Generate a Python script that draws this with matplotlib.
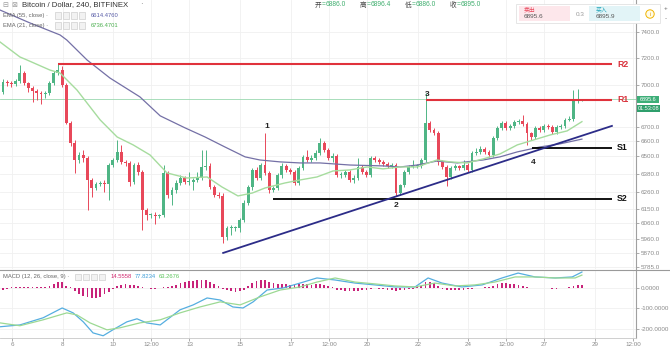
import numpy as np
import matplotlib.pyplot as plt
from matplotlib.patches import Rectangle, Ellipse
from matplotlib.lines import Line2D
from matplotlib.ticker import FixedLocator, NullLocator, FuncFormatter

plt.rcParams['font.family'] = ['Liberation Sans', 'Noto Sans CJK SC', 'DejaVu Sans']

# ---------------- 4h candles (BTC/USD, Bitfinex) ----------------
opens = [6949, 7021, 7014, 7007, 7029, 7088, 7014, 6977, 6956, 6941,
         6934, 6941, 7014, 7088, 7110, 6999, 6727, 6588, 6471, 6505,
         6485, 6337, 6284, 6311, 6317, 6311, 6437, 6471, 6526, 6458,
         6451, 6324, 6437, 6390, 6141, 6109, 6109, 6103, 6109, 6384,
         6238, 6271, 6317, 6350, 6324, 6324, 6337, 6350, 6424, 6431,
         6291, 6238, 6232, 5970, 6026, 6026, 6026, 6077, 6186, 6291,
         6404, 6350, 6437, 6384, 6271, 6284, 6370, 6431, 6404, 6390,
         6317, 6417, 6492, 6471, 6485, 6519, 6588, 6539, 6485, 6498,
         6370, 6370, 6390, 6337, 6350, 6424, 6390, 6370, 6485, 6471,
         6458, 6444, 6431, 6437, 6251, 6304, 6390, 6424, 6431, 6431,
         6471, 6727, 6678, 6657, 6458, 6424, 6357, 6417, 6431, 6417,
         6437, 6404, 6519, 6526, 6546, 6526, 6505, 6622, 6692, 6727,
         6692, 6706, 6734, 6741, 6720, 6657, 6629, 6692, 6678, 6706,
         6699, 6664, 6699, 6706, 6748, 6755, 6880, 6886]
highs = [7043, 7036, 7029, 7043, 7148, 7103, 7021, 6992, 6970, 6956,
         6956, 7029, 7103, 7155, 7140, 7014, 6741, 6608, 6526, 6539,
         6498, 6350, 6324, 6330, 6337, 6451, 6485, 6608, 6574, 6471,
         6464, 6451, 6458, 6404, 6154, 6122, 6128, 6115, 6437, 6397,
         6291, 6337, 6370, 6364, 6390, 6350, 6390, 6539, 6539, 6451,
         6304, 6258, 6251, 6039, 6045, 6039, 6090, 6206, 6304, 6417,
         6424, 6451, 6657, 6397, 6297, 6384, 6451, 6444, 6417, 6404,
         6431, 6505, 6539, 6505, 6539, 6622, 6601, 6553, 6519, 6512,
         6390, 6404, 6404, 6370, 6485, 6437, 6404, 6498, 6498, 6485,
         6471, 6458, 6451, 6451, 6311, 6404, 6437, 6471, 6444, 6485,
         6941, 6741, 6692, 6671, 6471, 6437, 6431, 6444, 6437, 6471,
         6451, 6532, 6553, 6567, 6560, 6539, 6636, 6706, 6741, 6741,
         6720, 6748, 6755, 6784, 6734, 6664, 6706, 6706, 6720, 6720,
         6713, 6713, 6720, 6763, 6777, 6963, 6970, 6896]
lows = [6934, 6992, 6985, 6992, 7014, 6999, 6949, 6877, 6891, 6862,
        6905, 6927, 6999, 7073, 6985, 6720, 6567, 6384, 6451, 6458,
        6141, 6225, 6271, 6297, 6258, 6206, 6424, 6458, 6444, 6431,
        6297, 6311, 6370, 6013, 6077, 6090, 6051, 6090, 6096, 6219,
        6173, 6251, 6304, 6311, 6304, 6271, 6324, 6337, 6404, 6278,
        6225, 6219, 5932, 5951, 5982, 6007, 6001, 6064, 6173, 6271,
        6337, 6337, 6370, 6251, 6258, 6271, 6350, 6390, 6377, 6304,
        6304, 6404, 6458, 6458, 6471, 6505, 6526, 6471, 6458, 6357,
        6350, 6357, 6324, 6317, 6337, 6377, 6357, 6357, 6458, 6444,
        6431, 6417, 6417, 6232, 6238, 6291, 6377, 6417, 6417, 6417,
        6458, 6664, 6643, 6437, 6411, 6297, 6344, 6404, 6404, 6404,
        6390, 6390, 6505, 6512, 6512, 6492, 6492, 6608, 6678, 6678,
        6678, 6692, 6720, 6706, 6574, 6608, 6615, 6664, 6664, 6685,
        6650, 6650, 6685, 6692, 6741, 6741, 6870, 6886]
closes = [7021, 7014, 7007, 7029, 7088, 7014, 6977, 6956, 6941, 6934,
          6941, 7014, 7088, 7110, 6999, 6727, 6588, 6471, 6505, 6485,
          6337, 6284, 6311, 6317, 6311, 6437, 6471, 6526, 6458, 6451,
          6324, 6437, 6390, 6141, 6109, 6109, 6103, 6109, 6384, 6238,
          6271, 6317, 6350, 6324, 6324, 6337, 6350, 6424, 6431, 6291,
          6238, 6232, 5970, 6026, 6026, 6026, 6077, 6186, 6291, 6404,
          6350, 6437, 6384, 6271, 6284, 6370, 6431, 6404, 6390, 6317,
          6417, 6492, 6471, 6485, 6519, 6588, 6539, 6485, 6498, 6370,
          6370, 6390, 6337, 6350, 6424, 6390, 6370, 6485, 6471, 6458,
          6444, 6431, 6437, 6251, 6304, 6390, 6424, 6431, 6431, 6471,
          6727, 6678, 6657, 6458, 6424, 6357, 6417, 6431, 6417, 6437,
          6404, 6519, 6526, 6546, 6526, 6505, 6622, 6692, 6727, 6692,
          6706, 6734, 6741, 6720, 6657, 6629, 6692, 6678, 6706, 6699,
          6664, 6699, 6706, 6748, 6755, 6880, 6886, 6895]

# EMA values (candle index -> price)
ema55_at = [-0.7, 6.4, 13.5, 15.1, 19.9, 25.3, 32.4, 37.2, 43.1, 47.8, 52.5, 57.3, 60.8, 65.6,
            70.3, 75, 82.1, 89.9, 94, 98, 102.7, 107.5, 113.6, 117.6, 121.7, 127.1, 131.8, 137]
ema55 = [7571, 7469, 7376, 7337, 7185, 7051, 6913, 6777, 6692, 6629, 6560, 6492, 6471, 6458,
         6451, 6451, 6437, 6431, 6424, 6437, 6464, 6451, 6471, 6492, 6526, 6560, 6581, 6614]
ema21_at = [-0.7, 4, 5.7, 11.1, 13.5, 17.5, 20.6, 23, 27, 30.8, 34.8, 38.8, 43.5, 48.3, 51.8, 55.6,
            59, 62, 66.7, 70.3, 74.3, 78.1, 82.1, 86.2, 89.9, 94, 98, 102.7, 105.8, 109.8, 113.6,
            117.6, 121.7, 129.5, 133.5, 137]
ema21 = [7322, 7208, 7185, 7110, 7088, 6963, 6841, 6748, 6629, 6574, 6505, 6384, 6350, 6357, 6291, 6232,
         6251, 6284, 6317, 6337, 6357, 6397, 6404, 6424, 6411, 6424, 6424, 6471, 6458, 6451, 6478,
         6512, 6574, 6643, 6671, 6736]

# MACD (12, 26, close, 9)
macd_at = [-0.7, 4, 9.5, 14, 16.6, 19, 21.3, 23.7, 26, 29.3, 31.7, 34, 37.2, 41.9, 45, 48.3, 51.4,
           54.4, 56.8, 59.2, 62.5, 66.3, 70.3, 74.3, 78.6, 83.3, 88, 92.8, 97.5, 100.6, 103.9,
           108.6, 113.4, 118.1, 121.9, 125.9, 130.7, 134.7, 137]
macd = [-190, -181, -146, -98, -122, -166, -220, -234, -205, -166, -151, -171, -181, -107, -83, -49, -59,
        -93, -98, -68, -10, 0, 24, 49, 39, 24, 15, 5, 5, 49, 24,
        5, 15, 49, 73, 54, 49, 54, 78]
signal_at = [-0.7, 4, 9.5, 15.1, 17.5, 20.6, 24.6, 27.7, 32.4, 37.2, 41.9, 46.6, 51.4, 56.1, 60.8, 65.6,
             70.3, 74.3, 78.6, 83.3, 88, 92.8, 97.5, 102.2, 107, 111.7, 116.4, 121.2, 125.9, 130.7,
             135.4, 137]
signal = [-171, -185, -156, -122, -132, -171, -205, -195, -171, -156, -122, -93, -68, -83, -44, -10,
          5, 29, 49, 29, 20, 10, 5, 24, 10, 15, 29, 54, 54, 49, 49, 63]
hist = [-10, -6, 3, 3, 4, 3, 3, 3, 3, 4, 6, 10, 20, 28, 30, 12, 3, -15, -28, -38,
        -45, -48, -48, -42, -30, -18, -5, 8, 15, 18, 15, 15, 12, 5, -2, -3, -3, -2, 3, 5,
        8, 15, 22, 28, 32, 35, 38, 40, 38, 30, 20, 10, -5, -10, -15, -18, -15, -8, 8, 25,
        35, 40, 38, 28, 22, 20, 20, 18, 16, 15, 18, 20, 18, 16, 18, 20, 15, 10, 5, -8,
        -12, -14, -16, -15, -13, -12, -10, -5, -2, -3, -6, -10, -12, -14, -12, -8, -5, -3, 3, 8,
        28, 30, 22, 10, -5, -10, -12, -12, -10, -8, -6, -3, 2, 2, 3, 5, 12, 18, 22, 22,
        20, 18, 15, 10, 3, -2, -2, 2, -2, -2, -3, -3, -2, 2, 4, 10, 14, 14.6]

# support / resistance and trend line
r2, r1, s1, s2 = 7155, 6891, 6553, 6212
trend_at = [52.1, 144.1]
trend_price = [5871, 6706]

price_ticks = [7400, 7200, 7000, 6700, 6600, 6500, 6380, 6260, 6150, 6060, 5960, 5870, 5785]
macd_ticks = [0, -100, -200]
day_ticks = [6, 8, 10, 11.5, 13, 15, 17, 18.5, 20, 22, 24, 25.5, 27, 29, 30.5]
day_labels = ['6', '8', '10', '12:00', '13', '15', '17', '12:00', '20', '22', '24', '12:00', '27', '29', '12:00']

GREEN = '#4fb585'
RED = '#e8485a'
GRID = '#f0f0f0'
AXC = '#8a8a8a'

W, H = 670, 351
fig = plt.figure(figsize=(W / 100, H / 100), dpi=100)


def fx(x):
    return x / W


def fy(y):
    return 1 - y / H


ax = fig.add_axes([0, fy(269), fx(636), 269 / H])
ax2 = fig.add_axes([0, fy(338), fx(636), (338 - 270) / H], sharex=ax)

# ---------------- price panel ----------------
ax.set_yscale('log')
x = np.arange(len(closes))
o, h, l, c = (np.array(v, dtype=float) for v in (opens, highs, lows, closes))
col = np.where(c >= o, GREEN, RED)
ax.vlines(x, l, h, colors=col, lw=0.7, zorder=3)
lo = np.minimum(o, c)
hi = np.maximum(np.maximum(o, c), lo * 1.0012)
ax.bar(x, hi - lo, bottom=lo, width=0.68, color=col, lw=0, zorder=4)

ax.plot(ema55_at, ema55, color='#7470a6', lw=0.9, zorder=5)
ax.plot(ema21_at, ema21, color='#a6dc9e', lw=1.0, zorder=5)
ax.axhline(closes[-1], color='#9ad8b0', lw=0.6, zorder=2)

ax.hlines([r2], 13, 144.1, color='#e0323c', lw=1.5, zorder=6)
ax.hlines([r1], 100, 144.1, color='#e0323c', lw=1.5, zorder=6)
ax.hlines([s1], 125.2, 144.1, color='black', lw=1.3, zorder=6)
ax.hlines([s2], 63.9, 144.1, color='black', lw=1.3, zorder=6)
ax.plot(trend_at, trend_price, color='#2c2c88', lw=1.3, zorder=6)
for name, lvl, cc in (('R2', r2, '#d9323c'), ('R1', r1, '#d9323c'), ('S1', s1, '#111'), ('S2', s2, '#111')):
    ax.text(145.3, lvl, name, color=cc, fontsize=6.3, fontweight='bold', va='center', ha='left', zorder=7)
for lab, xi, pv in (('1', 62.5, 6699), ('2', 93, 6173), ('3', 100.4, 6927), ('4', 125.4, 6451)):
    ax.text(xi, pv, lab, fontsize=6, fontweight='bold', color='#222', ha='center', va='center', zorder=7)

ax.set_xlim(-0.71, 149.8)
ax.set_ylim(5773, 7651)
ax.yaxis.set_major_locator(FixedLocator(price_ticks))
ax.yaxis.set_minor_locator(NullLocator())
ax.yaxis.set_major_formatter(FuncFormatter(lambda v, p: f'{v:.1f}'))
ax.yaxis.tick_right()
ax.tick_params(axis='y', labelsize=4.5, colors=AXC, length=2, width=0.5, pad=1.5)
ax.tick_params(axis='x', length=0, labelbottom=False)
ax.grid(True, color=GRID, lw=0.6)
ax.set_axisbelow(True)
for s in ('top', 'left', 'bottom'):
    ax.spines[s].set_visible(False)
ax.spines['right'].set_color('#a0a0a0')
ax.spines['right'].set_linewidth(0.8)

# ---------------- MACD panel ----------------
ax2.bar(x, hist, width=0.42, color='#c8237a', lw=0, zorder=3)
ax2.plot(macd_at, macd, color='#55aee0', lw=0.9, zorder=4)
ax2.plot(signal_at, signal, color='#9cd993', lw=0.9, zorder=4)
ax2.set_ylim(-245, 88)
ax2.set_yticks(macd_ticks)
ax2.yaxis.set_major_formatter(FuncFormatter(lambda v, p: f'{v:.4f}'))
ax2.yaxis.tick_right()
ax2.tick_params(axis='y', labelsize=4.5, colors=AXC, length=2, width=0.5, pad=1.5)
ax2.set_xticks((np.array(day_ticks) - 5.645) * 6)
ax2.set_xticklabels(day_labels)
ax2.tick_params(axis='x', labelsize=4.5, colors=AXC, length=2, width=0.5, pad=1)
ax2.grid(True, color=GRID, lw=0.6)
ax2.set_axisbelow(True)
for s in ('top', 'left'):
    ax2.spines[s].set_visible(False)
ax2.spines['right'].set_color('#a0a0a0')
ax2.spines['right'].set_linewidth(0.8)
ax2.spines['bottom'].set_color('#c8c8c8')
ax2.spines['bottom'].set_linewidth(0.6)

fig.add_artist(Line2D([0, 1], [fy(269.5)] * 2, color='#9a9a9a', lw=0.8))

# ---------------- header / legends ----------------
fig.text(fx(2), fy(5), '⊟', fontsize=5, color='#999', va='center', family='DejaVu Sans')
fig.text(fx(11), fy(5), '⊠', fontsize=5, color='#999', va='center', family='DejaVu Sans')
fig.text(fx(22), fy(5), 'Bitcoin / Dollar, 240, BITFINEX', fontsize=5.6, color='#333', va='center')
fig.text(fx(140), fy(5), '·', fontsize=5.6, color='#777', va='center')
for i, (k, v) in enumerate((('开', '6886.0'), ('高', '6896.4'), ('低', '6886.0'), ('收', '6895.0'))):
    x0 = 315 + 45 * i
    fig.text(fx(x0), fy(5), k, fontsize=4.8, color='#444', va='center')
    fig.text(fx(x0 + 7), fy(5), '=', fontsize=4.8, color='#3fae6e', va='center')
    fig.text(fx(x0 + 11), fy(5), v, fontsize=4.8, color='#3fae6e', va='center')


def legend_row(y, label, xs, values, colors):
    fig.text(fx(3), fy(y), label, fontsize=4.2, color='#666', va='center')
    for k in range(4):
        fig.add_artist(Rectangle((fx(xs + 8 * k), fy(y + 3)), fx(6), 6 / H, transform=fig.transFigure,
                                 facecolor='#f2f2f2', edgecolor='#cfcfcf', lw=0.5))
    px = xs + 36
    for val, cc in zip(values, colors):
        fig.text(fx(px), fy(y), val, fontsize=4.2, color=cc, va='center')
        px += 24


legend_row(15.5, 'EMA (55, close) ·', 55, ['6614.4760'], ['#5a5ea8'])
legend_row(25.5, 'EMA (21, close) ·', 55, ['6736.4701'], ['#4caf50'])
legend_row(276.5, 'MACD (12, 26, close, 9) ·', 75, ['14.5558', '77.8234', '63.2676'],
           ['#d0286e', '#3f9ed8', '#5cc45c'])

# bid / ask box
fig.add_artist(Rectangle((fx(516), fy(22.5)), fx(144), 18.5 / H, transform=fig.transFigure,
                         facecolor='white', edgecolor='#e2e2e2', lw=0.6, zorder=10))
fig.add_artist(Rectangle((fx(519), fy(21)), fx(51), 15.5 / H, transform=fig.transFigure,
                         facecolor='#fde7eb', lw=0, zorder=11))
fig.add_artist(Rectangle((fx(589), fy(21)), fx(51), 15.5 / H, transform=fig.transFigure,
                         facecolor='#e2f4f7', lw=0, zorder=11))
fig.text(fx(524), fy(9.5), '卖出', fontsize=4.2, color='#e8465b', va='center', zorder=12)
fig.text(fx(524), fy(17), '6895.6', fontsize=4.6, color='#555', va='center', zorder=12)
fig.text(fx(576), fy(14), '0.3', fontsize=4.6, color='#999', va='center', zorder=12)
fig.text(fx(596), fy(9.5), '买入', fontsize=4.2, color='#1fa3b8', va='center', zorder=12)
fig.text(fx(596), fy(17), '6895.9', fontsize=4.6, color='#555', va='center', zorder=12)
fig.add_artist(Ellipse((fx(650), fy(14)), 8.4 / W, 8.4 / H, transform=fig.transFigure, facecolor='#fffbe8',
                       edgecolor='#f0b400', lw=0.7, zorder=12))
fig.text(fx(650), fy(14), 'i', fontsize=4.2, color='#e0a000', ha='center', va='center', zorder=13)
fig.text(fx(666), fy(8), '+', fontsize=4.5, color='#666', ha='center', va='center', zorder=12)
fig.text(fx(666), fy(19), '-', fontsize=4.5, color='#666', ha='center', va='center', zorder=12)

# last-price tags on the price scale
fig.add_artist(Rectangle((fx(637), fy(103)), fx(22), 6.8 / H, transform=fig.transFigure,
                         facecolor='#3dae78', lw=0, zorder=10))
fig.text(fx(648), fy(99.6), '6895.6', fontsize=4, color='white', ha='center', va='center', zorder=11)
fig.add_artist(Rectangle((fx(637), fy(111.5)), fx(23), 6.8 / H, transform=fig.transFigure,
                         facecolor='#2f9f6c', lw=0, zorder=10))
fig.text(fx(648.5), fy(108.1), '01:53:08', fontsize=4, color='white', ha='center', va='center', zorder=11)

fig.savefig('out.png', dpi=100, facecolor='white')
